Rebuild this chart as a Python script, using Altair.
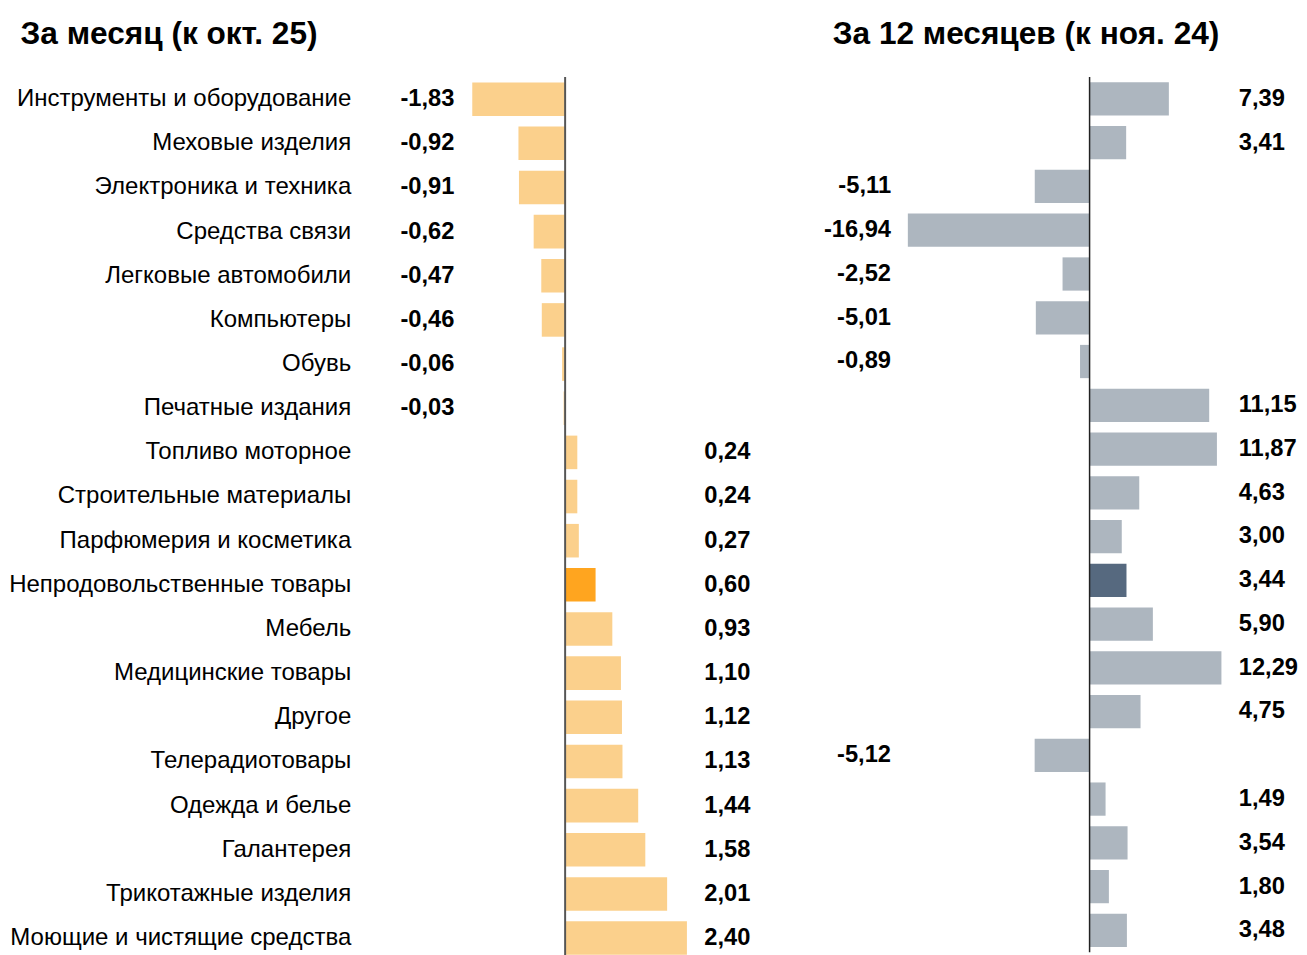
import altair as alt
import pandas as pd

FONT = "Liberation Sans"

cats = [
    "Инструменты и оборудование",
    "Меховые изделия",
    "Электроника и техника",
    "Средства связи",
    "Легковые автомобили",
    "Компьютеры",
    "Обувь",
    "Печатные издания",
    "Топливо моторное",
    "Строительные материалы",
    "Парфюмерия и косметика",
    "Непродовольственные товары",
    "Мебель",
    "Медицинские товары",
    "Другое",
    "Телерадиотовары",
    "Одежда и белье",
    "Галантерея",
    "Трикотажные изделия",
    "Моющие и чистящие средства",
]
month = [-1.83, -0.92, -0.91, -0.62, -0.47, -0.46, -0.06, -0.03, 0.24, 0.24,
         0.27, 0.60, 0.93, 1.10, 1.12, 1.13, 1.44, 1.58, 2.01, 2.40]
year = [7.39, 3.41, -5.11, -16.94, -2.52, -5.01, -0.89, 11.15, 11.87, 4.63,
        3.00, 3.44, 5.90, 12.29, 4.75, -5.12, 1.49, 3.54, 1.80, 3.48]
highlight = "Непродовольственные товары"
title_left = "За месяц (к окт. 25)"
title_right = "За 12 месяцев (к ноя. 24)"

df = pd.DataFrame({"cat": cats, "month": month, "year": year})
df["hl"] = df["cat"] == highlight
df["m_lab"] = df["month"].map(lambda v: f"{v:.2f}".replace(".", ","))
df["y_lab"] = df["year"].map(lambda v: f"{v:.2f}".replace(".", ","))
zero = pd.DataFrame({"z": [0]})

LAB = 24
CAT = 24.3


def ycat(show_axis):
    axis = alt.Axis(title=None, labelFontSize=CAT, labelColor="#000", labelPadding=10,
                    ticks=False, domain=False, labelLimit=600, labelFont=FONT,
                    grid=False) if show_axis else None
    return alt.Y("cat:N", sort=cats,
                 scale=alt.Scale(paddingInner=0.24, paddingOuter=0.12),
                 axis=axis)


def panel(field, lab, domain, width, height, light, dark, rule_color, rule_w,
          neg_x, pos_x, title, title_dx, show_axis):
    base = alt.Chart(df)
    xs = alt.X(f"{field}:Q", scale=alt.Scale(domain=domain, nice=False, zero=False), axis=None)
    yy = ycat(show_axis)
    bars = base.mark_bar().encode(
        x=xs, x2=alt.datum(0), y=yy,
        color=alt.condition("datum.hl", alt.value(dark), alt.value(light)),
    )
    txt = dict(baseline="middle", fontSize=LAB, fontWeight="bold", font=FONT, color="#000")
    neg = base.transform_filter(f"datum.{field} < 0").mark_text(align="right", **txt).encode(
        y=yy, x=alt.value(neg_x), text=f"{lab}:N")
    pos = base.transform_filter(f"datum.{field} >= 0").mark_text(align="left", **txt).encode(
        y=yy, x=alt.value(pos_x), text=f"{lab}:N")
    rule = alt.Chart(zero).mark_rule(color=rule_color, strokeWidth=rule_w).encode(
        x=alt.X("z:Q", scale=alt.Scale(domain=domain, nice=False, zero=False), axis=None))
    return alt.layer(bars, rule, neg, pos).properties(
        width=width, height=height,
        title=alt.TitleParams(title, anchor="start", fontSize=32, fontWeight="bold",
                              font=FONT, color="#000", offset=26, dx=title_dx),
    )


left = panel("month", "m_lab", [-4.03, 4.34], 430, 894, "#FBD08C", "#FFA51F", "#555555", 2,
             95, 348, title_left, 12, True)
right = panel("year", "y_lab", [-27.16, 18.6], 497, 886, "#ADB6BF", "#56697F", "#222222", 1.5,
              94, 446, title_right, 35, False)

chart = alt.hconcat(left, right, spacing=13).properties(
    padding={"top": 4, "left": 0, "right": 0, "bottom": 0}
).configure_view(stroke=None).configure_concat(spacing=13)

chart.save("out.html", embed_options={"renderer": "svg", "actions": False})
